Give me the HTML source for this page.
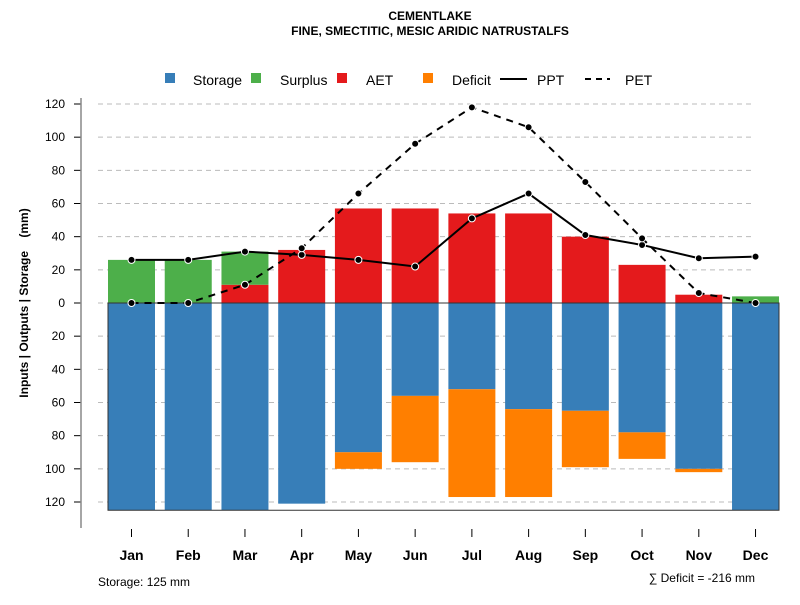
<!DOCTYPE html>
<html><head><meta charset="utf-8"><style>
body{margin:0;background:#fff}
svg text{font-family:"Liberation Sans",sans-serif}
</style></head><body>
<svg id="c" width="800" height="600" xmlns="http://www.w3.org/2000/svg">
<text x="430" y="20" text-anchor="middle" font-size="12" font-weight="bold">CEMENTLAKE</text>
<text x="430" y="35" text-anchor="middle" font-size="12" font-weight="bold">FINE, SMECTITIC, MESIC ARIDIC NATRUSTALFS</text>
<g font-size="14">
<rect x="165" y="73" width="10" height="10" fill="#377eb8"/>
<text x="193" y="85">Storage</text>
<rect x="251" y="73" width="10" height="10" fill="#4daf4a"/>
<text x="280" y="85">Surplus</text>
<rect x="337" y="73" width="10" height="10" fill="#e41a1c"/>
<text x="366" y="85">AET</text>
<rect x="423" y="73" width="10" height="10" fill="#ff7f00"/>
<text x="452" y="85">Deficit</text>
<line x1="500" y1="79" x2="527" y2="79" stroke="#000" stroke-width="2"/>
<text x="537" y="85">PPT</text>
<line x1="585" y1="79" x2="610" y2="79" stroke="#000" stroke-width="2" stroke-dasharray="6,5"/>
<text x="625" y="85">PET</text>
</g>
<text transform="translate(28,303) rotate(-90)" text-anchor="middle" font-size="12" font-weight="bold">Inputs | Outputs | Storage&#160;&#160;&#160;&#160;(mm)</text>
<text x="98" y="586" font-size="12">Storage: 125 mm</text>
<text x="755" y="582" text-anchor="end" font-size="12">∑ Deficit = -216 mm</text>
<g id="g"></g>
</svg>
<script>
const months=["Jan","Feb","Mar","Apr","May","Jun","Jul","Aug","Sep","Oct","Nov","Dec"];
const storage=[125,125,125,121,90,56,52,64,65,78,100,125];
const deficit=[0,0,0,0,10,40,65,53,34,16,2,0];
const aet=[0,0,11,32,57,57,54,54,40,23,5,0];
const surplus=[26,26,20,0,0,0,0,0,0,0,0,4];
const ppt=[26,26,31,29,26,22,51,66,41,35,27,28];
const pet=[0,0,11,33,66,96,118,106,73,39,6,0];
const yTicks=[120,100,80,60,40,20,0,20,40,60,80,100,120];
const yTickVals=[120,100,80,60,40,20,0,-20,-40,-60,-80,-100,-120];
const NS="http://www.w3.org/2000/svg";
const g=document.getElementById('g');
const y=v=>303-v*199/120;
const x=i=>131.5+i*56.73;
const bw=47;
function mk(t,a){const e=document.createElementNS(NS,t);for(const k in a)e.setAttribute(k,a[k]);g.appendChild(e);return e;}
yTickVals.forEach((v,i)=>{
  const gl=mk('line',{x1:98,x2:755,y1:y(v),y2:y(v),stroke:'#bbb','stroke-dasharray':'5,4'});
  
  
  const tk=mk('line',{x1:74,x2:81,y1:y(v),y2:y(v),stroke:'#000'});
  
  
  const t=mk('text',{x:65,y:y(v)+4,'text-anchor':'end','font-size':12});
  t.textContent=yTicks[i];
  
  
});
const ax=mk('line',{x1:81,x2:81,y1:98,y2:528,stroke:'#888','stroke-width':1.5});


months.forEach((m,i)=>{
  const l=x(i)-bw/2;
  const s=mk('rect',{x:l,y:y(0),width:bw,height:y(-storage[i])-y(0),fill:'#377eb8'});
  
  
  if(deficit[i]>0){const d=mk('rect',{x:l,y:y(-storage[i]),width:bw,height:y(-storage[i]-deficit[i])-y(-storage[i]),fill:'#ff7f00'});
  
  }
  if(aet[i]>0){const a=mk('rect',{x:l,y:y(aet[i]),width:bw,height:y(0)-y(aet[i]),fill:'#e41a1c'});
  
  }
  if(surplus[i]>0){const su=mk('rect',{x:l,y:y(aet[i]+surplus[i]),width:bw,height:y(aet[i])-y(aet[i]+surplus[i]),fill:'#4daf4a'});
  
  }
  const tk=mk('line',{x1:x(i),x2:x(i),y1:529,y2:537,stroke:'#000'});
  
  
  const t=mk('text',{x:x(i),y:560,'text-anchor':'middle','font-size':14,'font-weight':'bold'});
  t.textContent=m;
  
  
});
const fr=mk('path',{d:`M108,${y(0)} H779 V${y(-125)} H108 Z`,fill:'none',stroke:'#333','stroke-width':1});


function line(vals,name,dash){
  const p=mk('polyline',{points:vals.map((v,i)=>x(i)+','+y(v)).join(' '),fill:'none',stroke:'#000','stroke-width':2,'stroke-dasharray':dash});
  
  
  vals.forEach((v,i)=>{const c=mk('circle',{cx:x(i),cy:y(v),r:3.5,fill:'#000',stroke:'#fff','stroke-width':1});
  
  });
}
line(ppt,'ppt','none');
line(pet,'pet','7,6');
</script>
</body></html>
